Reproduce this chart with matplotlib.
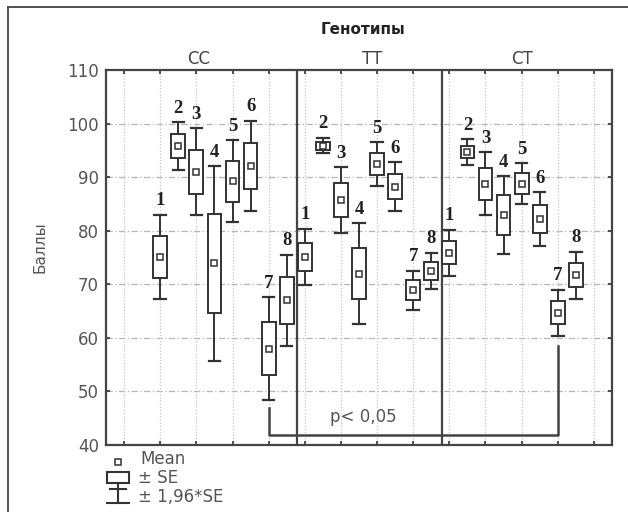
import matplotlib
matplotlib.use("Agg")
import matplotlib.pyplot as plt
from matplotlib.patches import Rectangle
import numpy as np

# ---- data ----
groups = ["CC", "TT", "CT"]
box_labels = ["1", "2", "3", "4", "5", "6", "7", "8"]
mean_cc = [75.1, 95.8, 91.0, 73.9, 89.2, 92.1, 58.0, 67.0]
se_cc = [4.0, 2.25, 4.15, 9.25, 3.9, 4.3, 4.9, 4.35]
mean_tt = [75.1, 95.9, 85.7, 72.0, 92.45, 88.2, 68.9, 72.5]
se_tt = [2.7, 0.75, 3.15, 4.8, 2.05, 2.35, 1.85, 1.75]
mean_ct = [75.9, 94.7, 88.8, 82.9, 88.8, 82.2, 64.7, 71.7]
se_ct = [2.2, 1.2, 3.0, 3.7, 1.95, 2.55, 2.2, 2.25]
y_ticks = [40, 50, 60, 70, 80, 90, 100, 110]
p_text = "p< 0,05"

means = [mean_cc, mean_tt, mean_ct]
ses = [se_cc, se_tt, se_ct]

W, H = 628, 512
fig = plt.figure(figsize=(W / 100, H / 100), dpi=100)
fig.patch.set_facecolor("white")

# overlay in pixel coordinates for frame/legend
ov = fig.add_axes([0, 0, 1, 1], zorder=0)
ov.set_xlim(0, W)
ov.set_ylim(H, 0)
ov.axis("off")

ax = fig.add_axes([106 / W, 1 - 445 / H, (612 - 106) / W, (445 - 70) / H], zorder=1)
ax.set_facecolor("none")
ax.set_xlim(-0.5, 13.5)
ax.set_ylim(40, 110)

dark = "#333333"
grey = "#555555"

ax.set_yticks(y_ticks)
ax.set_yticklabels([str(t) for t in y_ticks], fontsize=12, color=grey)
ax.set_xticks(np.arange(0, 14))
ax.set_xticklabels([])
ax.tick_params(axis="both", direction="in", length=3, width=1.2, color=dark,
               top=True, right=True, pad=5)
for s in ax.spines.values():
    s.set_color("#444444")
    s.set_linewidth(1.6)

# grid
for yv in y_ticks[1:-1]:
    ax.axhline(yv, color="#b5b5b5", lw=0.9, ls=(0, (5, 2, 1, 2)), zorder=0)
for xv in range(0, 14):
    ax.axvline(xv, color="#c5c5c5", lw=0.9, ls=(0, (1, 1.5)), zorder=0)

# panel dividers
ax.axvline(4.78, color="#444444", lw=1.6, zorder=2)
ax.axvline(8.8, color="#444444", lw=1.6, zorder=2)

bw = 0.38
cw = 0.16
for g in range(3):
    for i in range(8):
        x = 1 + 0.5 * i + 4 * g
        m = means[g][i]
        s = ses[g][i]
        lo2, hi2 = m - 1.96 * s, m + 1.96 * s
        ax.plot([x, x], [hi2, m + s], color=dark, lw=1.4, zorder=3)
        ax.plot([x, x], [m - s, lo2], color=dark, lw=1.4, zorder=3)
        ax.plot([x - cw, x + cw], [hi2, hi2], color=dark, lw=1.6, zorder=3)
        ax.plot([x - cw, x + cw], [lo2, lo2], color=dark, lw=1.6, zorder=3)
        ax.add_patch(Rectangle((x - bw / 2, m - s), bw, 2 * s, fill=True,
                               facecolor="white", edgecolor=dark, lw=1.4, zorder=4))
        ax.plot([x], [m], marker="s", ms=4, mfc="white", mec=dark, mew=1.1, zorder=5)
        ax.annotate(box_labels[i], (x, hi2), xytext=(0, 4), textcoords="offset points",
                    ha="center", va="bottom", fontsize=13.5, fontweight="bold",
                    family="Liberation Serif", color="#222222", zorder=6)

# significance bracket (CC 7 vs CT 7)
bx1 = 1 + 0.5 * 6
bx2 = 1 + 0.5 * 6 + 8
ax.plot([bx1, bx1, bx2, bx2], [46.9, 41.8, 41.8, 58.4], color="#444444", lw=1.8, zorder=3)
ax.text(6.62, 45.3, p_text, ha="center", va="center", fontsize=12, color=grey, zorder=6)

# group labels
ax.text(2.07, 112, groups[0], ha="center", va="center", fontsize=12, color="#444444", clip_on=False)
ax.text(6.86, 112, groups[1], ha="center", va="center", fontsize=12, color="#444444", clip_on=False)
ax.text(11.01, 112, groups[2], ha="center", va="center", fontsize=12, color="#444444", clip_on=False)

# title and y label
ov.text(363, 30, "Генотипы", ha="center", va="center", fontsize=11, fontweight="bold", color="#222222")
ov.text(40, 247, "Баллы", ha="center", va="center", rotation=90, fontsize=11, color=grey)

# outer frame
ov.plot([8, 8], [7, H], color="#444444", lw=1.3)
ov.plot([8, W], [7, 7], color="#444444", lw=1.3)

# legend
ov.plot([118], [462], marker="s", ms=4, mfc="white", mec=dark, mew=1.1)
ov.text(140, 459, "Mean", ha="left", va="center", fontsize=12, color=grey)
ov.add_patch(Rectangle((107, 472), 22, 11, fill=False, edgecolor=dark, lw=1.5))
ov.text(138, 478, "± SE", ha="left", va="center", fontsize=12, color=grey)
ov.plot([118, 118], [483, 503], color=dark, lw=1.5)
ov.plot([110, 126], [489, 489], color=dark, lw=1.5)
ov.plot([107, 129], [503, 503], color=dark, lw=1.5)
ov.text(138, 497, "± 1,96*SE", ha="left", va="center", fontsize=12, color=grey)

fig.savefig("out.png", dpi=100, facecolor="white")
